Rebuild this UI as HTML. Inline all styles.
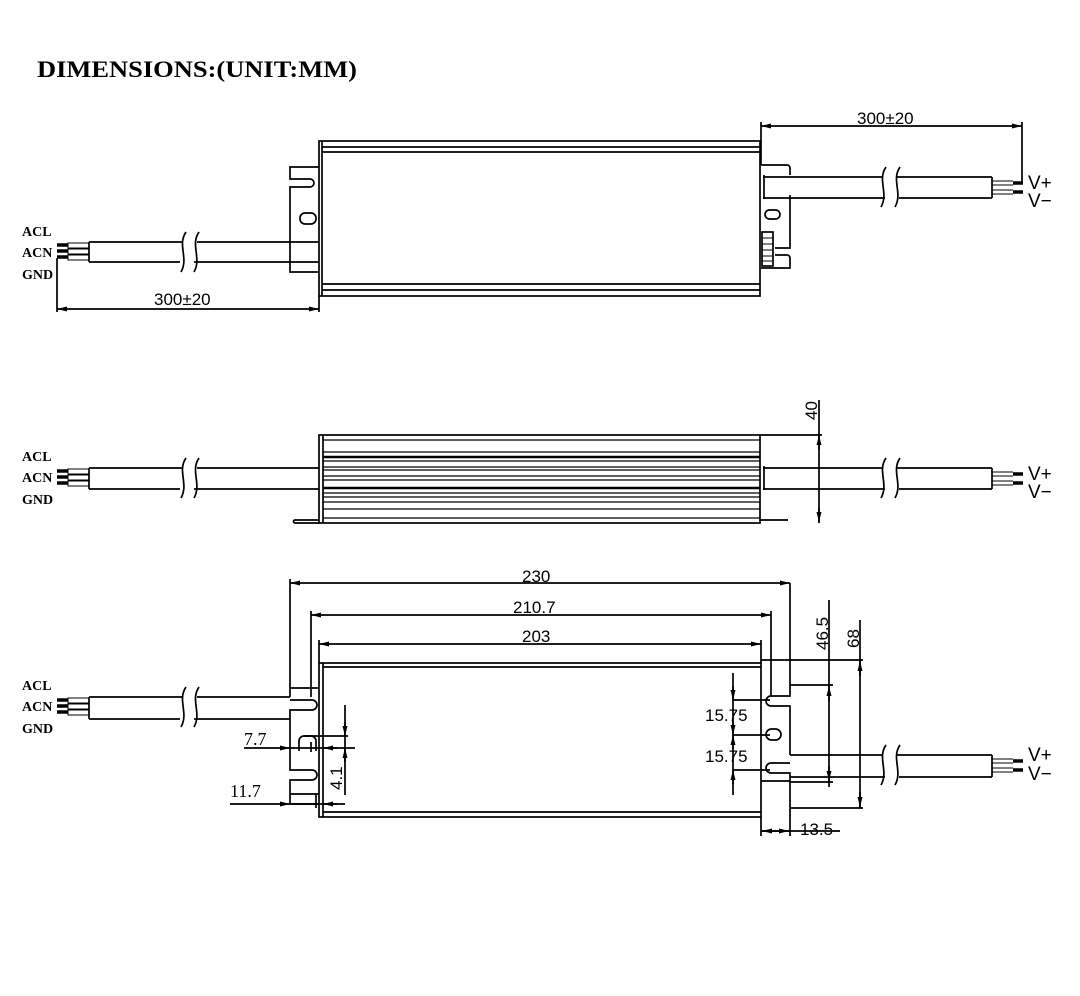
<!DOCTYPE html>
<html><head><meta charset="utf-8"><style>
html,body{margin:0;padding:0;background:#fff;}
svg{display:block}
.t{font-family:"Liberation Sans",sans-serif;font-size:17px;fill:#000}
.s{font-family:"Liberation Serif",serif;font-size:15px;font-weight:bold;fill:#000}
.v{font-size:19px}
</style></head><body>
<svg width="1080" height="996" viewBox="0 0 1080 996" xmlns="http://www.w3.org/2000/svg">
<defs>
<marker id="a" viewBox="0 0 12 6" refX="12" refY="3" markerWidth="12" markerHeight="5" orient="auto-start-reverse" markerUnits="userSpaceOnUse"><path d="M0,0 L12,3 L0,6z" fill="#000"/></marker>
</defs>
<text x="37" y="77" textLength="320" lengthAdjust="spacingAndGlyphs" style="font-family:'Liberation Serif',serif;font-weight:bold;font-size:23px">DIMENSIONS:(UNIT:MM)</text>

<g stroke="#000" stroke-width="1.7" fill="none">
<!-- ===== TOP VIEW ===== -->
<rect x="319" y="141" width="441" height="155"/>
<line x1="322" y1="141" x2="322" y2="296"/>
<line x1="322" y1="147" x2="760" y2="147"/><line x1="322" y1="152" x2="760" y2="152"/>
<line x1="322" y1="284" x2="760" y2="284"/><line x1="322" y1="290" x2="760" y2="290"/>
<path d="M319,167 H290 V179 H310 a4,4 0 0 1 0,8 H290 V272 H319"/>
<rect x="300" y="213" width="16" height="11" rx="5"/>
<line x1="89" y1="242" x2="183" y2="242"/><line x1="197" y1="242" x2="319" y2="242"/>
<line x1="89" y1="262" x2="180" y2="262"/><line x1="194" y1="262" x2="319" y2="262"/>
<line x1="89" y1="242" x2="89" y2="262"/>
<path d="M186,232 C177,245 189,258 181,272"/><path d="M199,232 C190,245 202,258 194,272"/>
<g stroke-width="1"><rect x="68" y="243" width="21" height="5"/><rect x="68" y="249" width="21" height="5"/><rect x="68" y="255" width="21" height="5"/></g>
<g stroke-width="3.5"><line x1="57" y1="245" x2="68" y2="245"/><line x1="57" y1="251" x2="68" y2="251"/><line x1="57" y1="257" x2="68" y2="257"/></g>
<line x1="57" y1="258" x2="57" y2="312"/><line x1="319" y1="296" x2="319" y2="312"/>
<line x1="57" y1="309" x2="319" y2="309" marker-start="url(#a)" marker-end="url(#a)"/>
<path d="M761,165 H787 a3,3 0 0 1 3,3 V175"/>
<path d="M790,195 V248 H775"/>
<path d="M775,255 H787 a3,3 0 0 1 3,3 V268 H761"/>
<rect x="765" y="210" width="15" height="9" rx="4.5"/>
<rect x="762" y="232" width="11" height="34"/>
<g stroke-width="1"><line x1="762" y1="238" x2="773" y2="238"/><line x1="762" y1="244" x2="773" y2="244"/><line x1="762" y1="250" x2="773" y2="250"/><line x1="762" y1="256" x2="773" y2="256"/><line x1="762" y1="261" x2="773" y2="261"/></g>
<line x1="763" y1="177" x2="882" y2="177"/><line x1="897" y1="177" x2="992" y2="177"/>
<line x1="763" y1="198" x2="885" y2="198"/><line x1="899" y1="198" x2="992" y2="198"/>
<line x1="992" y1="177" x2="992" y2="198"/><line x1="764" y1="175" x2="764" y2="199"/>
<path d="M886,167 C877,180 889,193 881,207"/><path d="M900,167 C891,180 903,193 895,207"/>
<g stroke-width="1"><line x1="992" y1="181" x2="1013" y2="181"/><line x1="992" y1="185" x2="1013" y2="185"/><line x1="992" y1="190" x2="1013" y2="190"/><line x1="992" y1="194" x2="1013" y2="194"/></g>
<g stroke-width="3.5"><line x1="1013" y1="183" x2="1023" y2="183"/><line x1="1013" y1="192" x2="1023" y2="192"/></g>
<line x1="761" y1="122" x2="761" y2="165"/><line x1="1022" y1="122" x2="1022" y2="182"/>
<line x1="761" y1="126" x2="1022" y2="126" marker-start="url(#a)" marker-end="url(#a)"/>

<!-- ===== SIDE VIEW ===== -->
<rect x="319" y="435" width="441" height="88"/>
<line x1="323" y1="435" x2="323" y2="523"/>
<g stroke-width="1.2">
<line x1="323" y1="440" x2="760" y2="440"/><line x1="323" y1="452" x2="760" y2="452"/>
<line x1="323" y1="457" x2="760" y2="457" stroke-width="2.5"/><line x1="323" y1="461" x2="760" y2="461"/>
<line x1="323" y1="467" x2="760" y2="467"/><line x1="323" y1="470" x2="760" y2="470"/>
<line x1="323" y1="476" x2="760" y2="476"/><line x1="323" y1="480" x2="760" y2="480"/>
<line x1="323" y1="488" x2="760" y2="488" stroke-width="2.5"/><line x1="323" y1="493" x2="760" y2="493"/>
<line x1="323" y1="497" x2="760" y2="497"/><line x1="323" y1="502" x2="760" y2="502"/>
<line x1="323" y1="509" x2="760" y2="509"/><line x1="323" y1="518" x2="760" y2="518"/>
</g>
<path d="M319,520 H295 a1.5,1.5 0 0 0 0,3 H319"/>
<line x1="760" y1="520" x2="788" y2="520"/>
<line x1="89" y1="468" x2="183" y2="468"/><line x1="197" y1="468" x2="319" y2="468"/>
<line x1="89" y1="489" x2="180" y2="489"/><line x1="194" y1="489" x2="319" y2="489"/>
<line x1="89" y1="468" x2="89" y2="489"/>
<path d="M186,458 C177,471 189,484 181,498"/><path d="M199,458 C190,471 202,484 194,498"/>
<g stroke-width="1"><rect x="68" y="469" width="21" height="5"/><rect x="68" y="475" width="21" height="5"/><rect x="68" y="481" width="21" height="5"/></g>
<g stroke-width="3.5"><line x1="57" y1="471" x2="68" y2="471"/><line x1="57" y1="477" x2="68" y2="477"/><line x1="57" y1="483" x2="68" y2="483"/></g>
<line x1="763" y1="468" x2="882" y2="468"/><line x1="897" y1="468" x2="992" y2="468"/>
<line x1="763" y1="489" x2="885" y2="489"/><line x1="899" y1="489" x2="992" y2="489"/>
<line x1="992" y1="468" x2="992" y2="489"/><line x1="764" y1="466" x2="764" y2="490"/>
<path d="M886,458 C877,471 889,484 881,498"/><path d="M900,458 C891,471 903,484 895,498"/>
<g stroke-width="1"><line x1="992" y1="472" x2="1013" y2="472"/><line x1="992" y1="476" x2="1013" y2="476"/><line x1="992" y1="481" x2="1013" y2="481"/><line x1="992" y1="485" x2="1013" y2="485"/></g>
<g stroke-width="3.5"><line x1="1013" y1="474" x2="1023" y2="474"/><line x1="1013" y1="483" x2="1023" y2="483"/></g>
<line x1="760" y1="435" x2="822" y2="435"/>
<line x1="819" y1="400" x2="819" y2="523"/>
<line x1="819" y1="449" x2="819" y2="435" marker-end="url(#a)"/>
<line x1="819" y1="508" x2="819" y2="522" marker-end="url(#a)"/>

<!-- ===== BOTTOM VIEW ===== -->
<rect x="319" y="663" width="442" height="154"/>
<line x1="323" y1="667" x2="761" y2="667"/><line x1="323" y1="663" x2="323" y2="817"/>
<line x1="323" y1="812" x2="761" y2="812"/>
<path d="M319,688 H290 V697"/>
<path d="M290,719 V710 H312 a5,5 0 0 0 0,-10 H290"/>
<path d="M290,719 V770 H312 a5,5 0 0 1 0,10 H290 V804 H319"/>
<line x1="290" y1="794" x2="319" y2="794"/>
<path d="M299,751 V741 a5,5 0 0 1 5,-5 H311 a5,5 0 0 1 5,5 V751"/>
<path d="M790,583 V696 H771 a5,5 0 0 0 0,10 H790 V755"/>
<path d="M790,777 V773 H771 a5,5 0 0 1 0,-10 H790"/>
<path d="M790,777 V808"/>
<line x1="761" y1="781" x2="790" y2="781"/>
<rect x="766" y="729" width="15" height="11" rx="5.5"/>
<line x1="89" y1="697" x2="183" y2="697"/><line x1="197" y1="697" x2="290" y2="697"/>
<line x1="89" y1="719" x2="180" y2="719"/><line x1="194" y1="719" x2="290" y2="719"/>
<line x1="89" y1="697" x2="89" y2="719"/>
<path d="M186,687 C177,700 189,713 181,727"/><path d="M199,687 C190,700 202,713 194,727"/>
<g stroke-width="1"><rect x="68" y="698" width="21" height="5"/><rect x="68" y="704" width="21" height="5"/><rect x="68" y="710" width="21" height="5"/></g>
<g stroke-width="3.5"><line x1="57" y1="700" x2="68" y2="700"/><line x1="57" y1="706" x2="68" y2="706"/><line x1="57" y1="712" x2="68" y2="712"/></g>
<line x1="790" y1="755" x2="882" y2="755"/><line x1="897" y1="755" x2="992" y2="755"/>
<line x1="790" y1="777" x2="885" y2="777"/><line x1="899" y1="777" x2="992" y2="777"/>
<line x1="992" y1="755" x2="992" y2="777"/>
<path d="M886,745 C877,758 889,771 881,785"/><path d="M900,745 C891,758 903,771 895,785"/>
<g stroke-width="1"><line x1="992" y1="759" x2="1013" y2="759"/><line x1="992" y1="763" x2="1013" y2="763"/><line x1="992" y1="768" x2="1013" y2="768"/><line x1="992" y1="772" x2="1013" y2="772"/></g>
<g stroke-width="3.5"><line x1="1013" y1="761" x2="1023" y2="761"/><line x1="1013" y1="770" x2="1023" y2="770"/></g>
<line x1="290" y1="579" x2="290" y2="688"/>
<line x1="290" y1="583" x2="790" y2="583" marker-start="url(#a)" marker-end="url(#a)"/>
<line x1="311" y1="611" x2="311" y2="697"/><line x1="771" y1="611" x2="771" y2="696"/>
<line x1="311" y1="615" x2="771" y2="615" marker-start="url(#a)" marker-end="url(#a)"/>
<line x1="319" y1="640" x2="319" y2="663"/><line x1="761" y1="640" x2="761" y2="663"/>
<line x1="319" y1="644" x2="761" y2="644" marker-start="url(#a)" marker-end="url(#a)"/>
<line x1="244" y1="748" x2="290" y2="748" marker-end="url(#a)"/>
<line x1="290" y1="748" x2="355" y2="748"/>
<line x1="337" y1="748" x2="323" y2="748" marker-end="url(#a)"/>
<line x1="230" y1="804" x2="290" y2="804" marker-end="url(#a)"/>
<line x1="290" y1="804" x2="345" y2="804"/>
<line x1="337" y1="804" x2="323" y2="804" marker-end="url(#a)"/>
<line x1="311" y1="742" x2="311" y2="752"/><line x1="316" y1="794" x2="316" y2="808"/>
<line x1="304" y1="736" x2="348" y2="736"/>
<line x1="345" y1="705" x2="345" y2="795"/>
<line x1="345" y1="722" x2="345" y2="736" marker-end="url(#a)"/>
<line x1="345" y1="762" x2="345" y2="748" marker-end="url(#a)"/>
<line x1="733" y1="673" x2="733" y2="795"/>
<line x1="733" y1="700" x2="770" y2="700"/><line x1="733" y1="735" x2="770" y2="735"/><line x1="733" y1="770" x2="770" y2="770"/>
<line x1="733" y1="686" x2="733" y2="700" marker-end="url(#a)"/>
<line x1="733" y1="721" x2="733" y2="735" marker-end="url(#a)"/>
<line x1="733" y1="749" x2="733" y2="735" marker-end="url(#a)"/>
<line x1="733" y1="784" x2="733" y2="770" marker-end="url(#a)"/>
<line x1="790" y1="685" x2="833" y2="685"/><line x1="790" y1="782" x2="833" y2="782"/>
<line x1="829" y1="600" x2="829" y2="787"/>
<line x1="829" y1="701" x2="829" y2="686" marker-end="url(#a)"/>
<line x1="829" y1="766" x2="829" y2="781" marker-end="url(#a)"/>
<line x1="761" y1="660" x2="863" y2="660"/><line x1="790" y1="808" x2="863" y2="808"/>
<line x1="860" y1="620" x2="860" y2="808"/>
<line x1="860" y1="676" x2="860" y2="661" marker-end="url(#a)"/>
<line x1="860" y1="792" x2="860" y2="807" marker-end="url(#a)"/>
<line x1="761" y1="817" x2="761" y2="836"/><line x1="790" y1="808" x2="790" y2="836"/>
<line x1="761" y1="831" x2="840" y2="831"/>
<line x1="776" y1="831" x2="762" y2="831" marker-end="url(#a)"/>
<line x1="775" y1="831" x2="789" y2="831" marker-end="url(#a)"/>
</g>

<g class="s" style="font-size:14px">
<text x="22" y="236">ACL</text><text x="22" y="257">ACN</text><text x="22" y="279">GND</text>
<text x="22" y="461">ACL</text><text x="22" y="482">ACN</text><text x="22" y="504">GND</text>
<text x="22" y="690">ACL</text><text x="22" y="711">ACN</text><text x="22" y="733">GND</text>
</g>
<g class="t">
<text x="154" y="305">300±20</text>
<text x="857" y="124">300±20</text>
<text x="1028" y="189" class="v">V+</text><text x="1028" y="207" class="v">V−</text>
<text x="1028" y="480" class="v">V+</text><text x="1028" y="498" class="v">V−</text>
<text x="1028" y="761" class="v">V+</text><text x="1028" y="780" class="v">V−</text>
<text x="522" y="582">230</text>
<text x="513" y="613">210.7</text>
<text x="522" y="642">203</text>
<text x="705" y="721">15.75</text>
<text x="705" y="762">15.75</text>
<text x="800" y="835">13.5</text>
<text x="244" y="745" style="font-family:'Liberation Serif',serif;font-size:18px">7.7</text>
<text x="230" y="797" style="font-family:'Liberation Serif',serif;font-size:18px">11.7</text>
<text transform="translate(817,420) rotate(-90)">40</text>
<text transform="translate(342,790) rotate(-90)">4.1</text>
<text transform="translate(828,650) rotate(-90)">46.5</text>
<text transform="translate(859,648) rotate(-90)">68</text>
</g>
</svg>
</body></html>
